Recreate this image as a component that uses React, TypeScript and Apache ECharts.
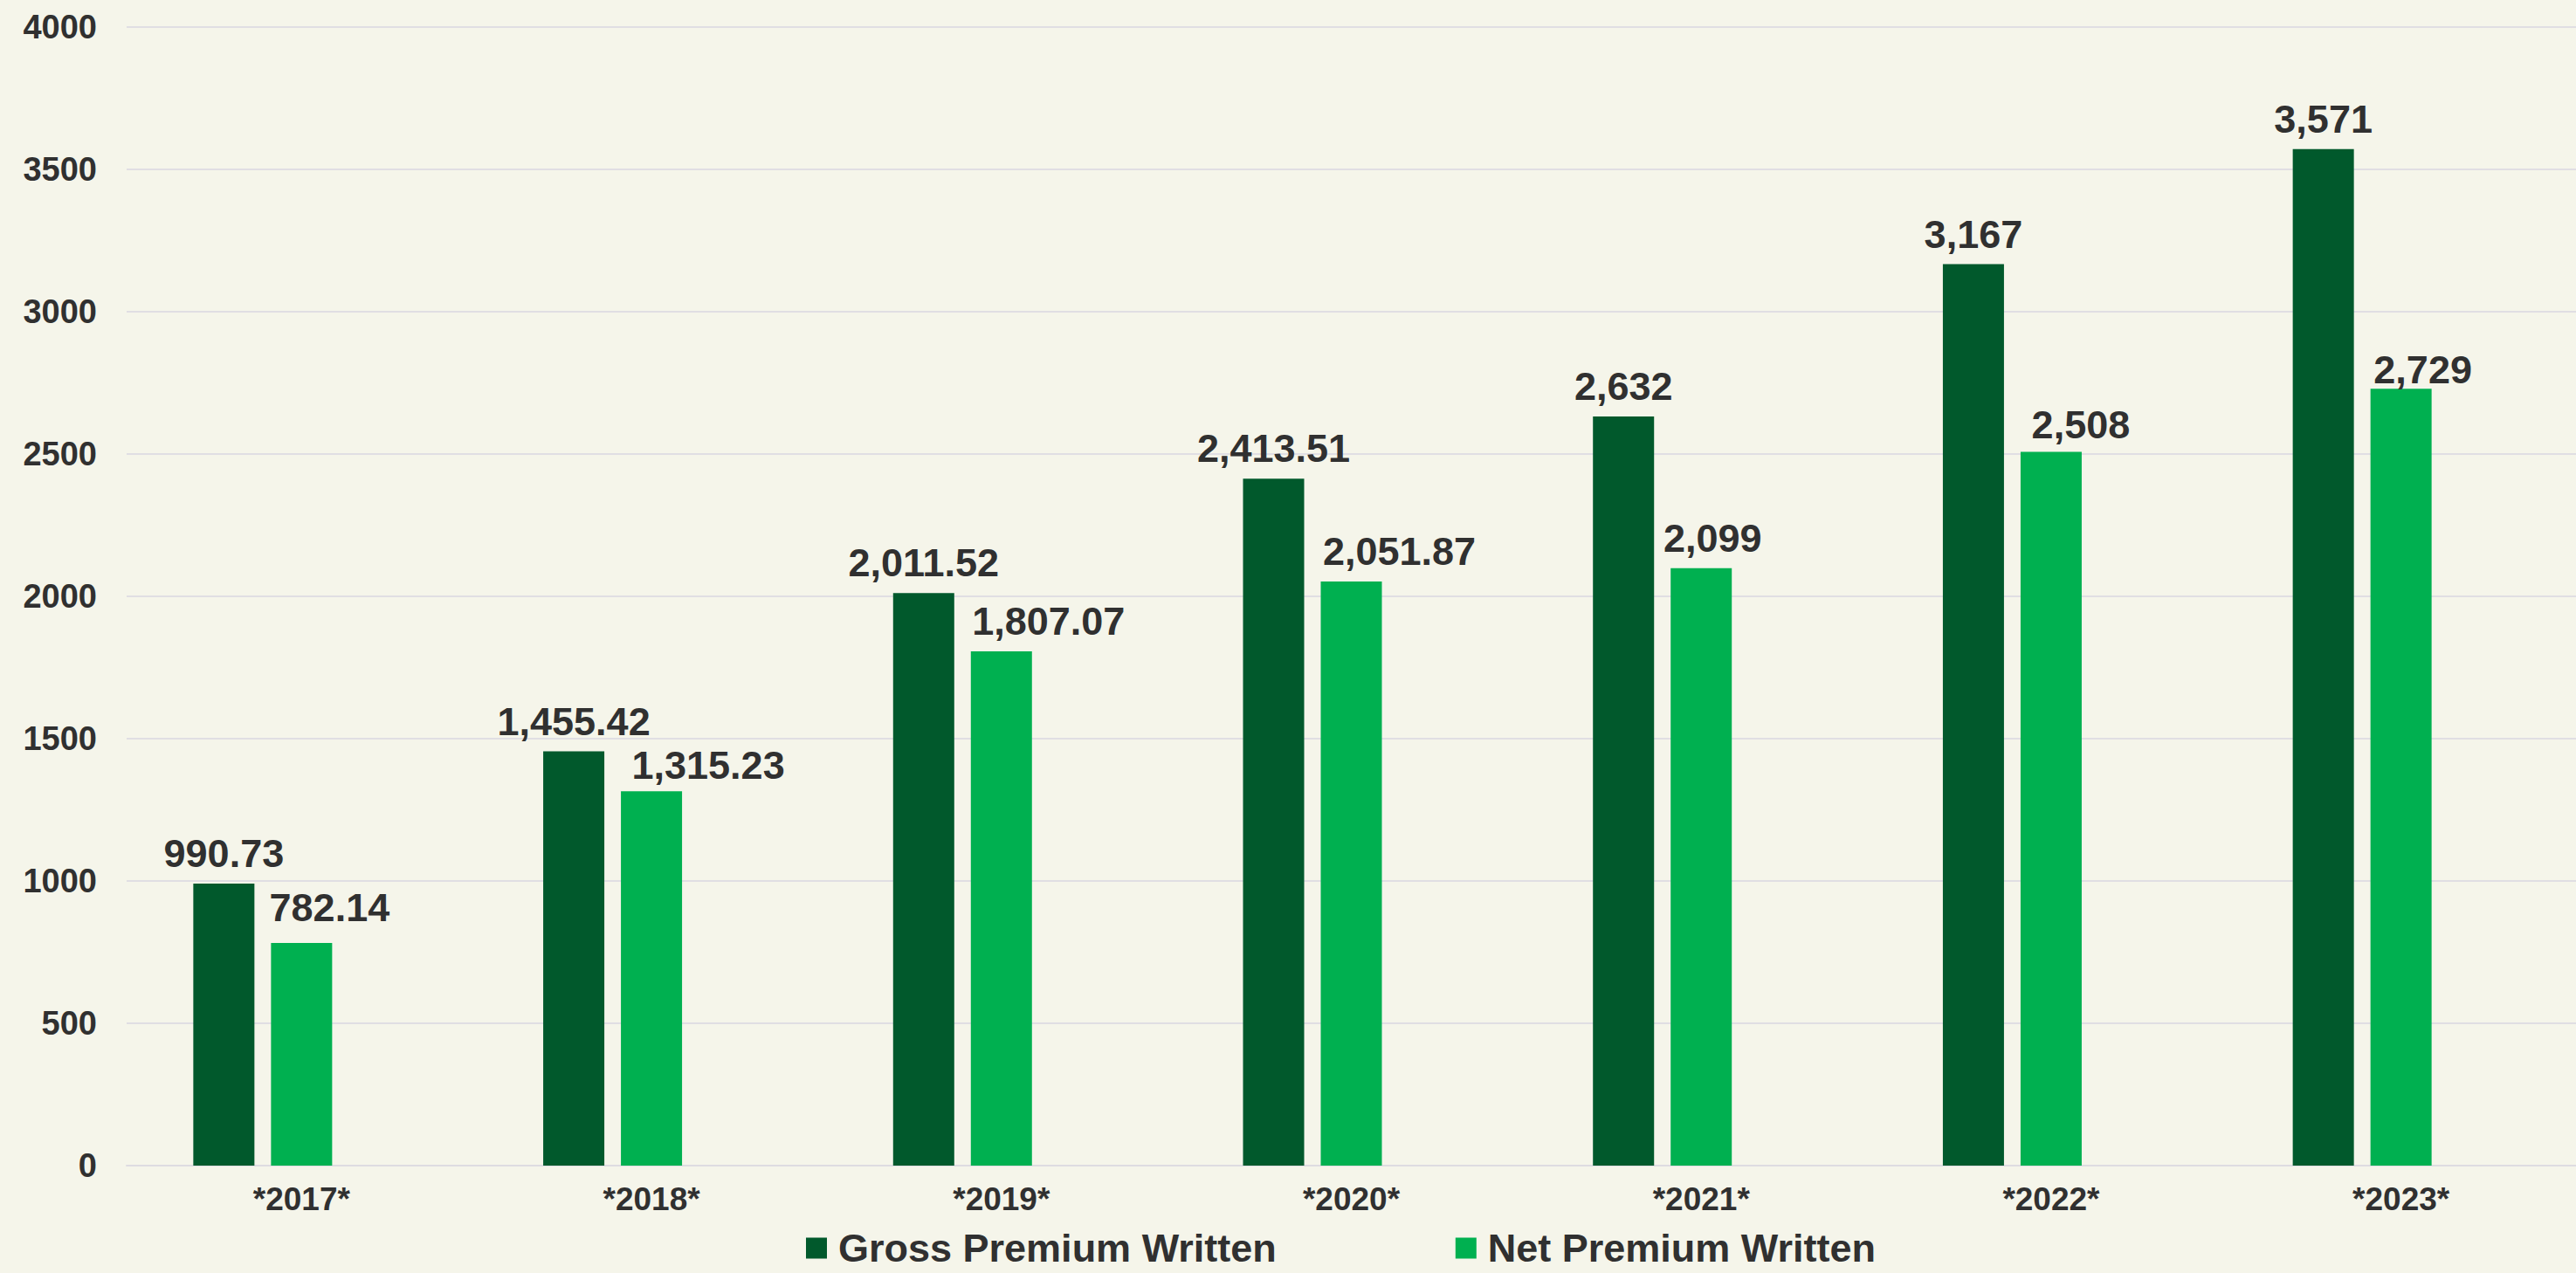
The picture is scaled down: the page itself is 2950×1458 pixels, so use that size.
import React, { useEffect, useRef } from "react";
import * as echarts from "echarts";

const categories = ["*2017*", "*2018*", "*2019*", "*2020*", "*2021*", "*2022*", "*2023*"];
const grossPremium = [990.73, 1455.42, 2011.52, 2413.51, 2632, 3167, 3571];
const netPremium = [782.14, 1315.23, 1807.07, 2051.87, 2099, 2508, 2729];
// manual label nudges of the net labels, as placed in the reference [dx, dy]
const netLabelOffsets = [
  [32, -6],
  [65, 5],
  [54, 0],
  [55, 0],
  [13, 0],
  [34, 4],
  [25, 13],
];
const seriesNames = ["Gross Premium Written", "Net Premium Written"];
const yTicks = { min: 0, max: 4000, interval: 500 };

const FONT = "'Liberation Sans', Arial, Helvetica, sans-serif";
const TEXT = "#303030";
const DARK = "#01592c";
const LIGHT = "#00b050";

const fmt = (v: number) =>
  v.toLocaleString("en-US", { maximumFractionDigits: 2, minimumFractionDigits: 0 });

export default function App() {
  const ref = useRef<HTMLDivElement>(null);
  useEffect(() => {
    if (!ref.current) return;
    const chart = echarts.init(ref.current, undefined, { renderer: "svg" });
    const labelBase = {
      show: true,
      position: "top",
      distance: 12,
      fontFamily: FONT,
      fontWeight: "bold",
      fontSize: 45,
      color: TEXT,
      formatter: (p: any) => fmt(p.value),
    };
    chart.setOption({
      animation: false,
      backgroundColor: "#f5f5ea",
      textStyle: { fontFamily: FONT },
      grid: { left: 145, top: 31, width: 2809, height: 1304, containLabel: false },
      legend: {
        data: seriesNames,
        left: 918,
        top: 1402,
        itemWidth: 24,
        itemHeight: 24,
        itemGap: 205,
        icon: "rect",
        textStyle: {
          fontFamily: FONT,
          fontWeight: "bold",
          fontSize: 45,
          color: TEXT,
          padding: [0, 0, 0, 8],
        },
      },
      xAxis: {
        type: "category",
        data: categories,
        axisTick: { show: false },
        axisLine: { show: true, lineStyle: { color: "#dedce1", width: 2 } },
        axisLabel: {
          margin: 20,
          fontFamily: FONT,
          fontWeight: "bold",
          fontSize: 37,
          color: TEXT,
        },
      },
      yAxis: {
        type: "value",
        min: yTicks.min,
        max: yTicks.max,
        interval: yTicks.interval,
        axisLine: { show: false },
        axisTick: { show: false },
        splitLine: { show: true, lineStyle: { color: "#e0dee3", width: 2 } },
        axisLabel: {
          margin: 34,
          fontFamily: FONT,
          fontWeight: "bold",
          fontSize: 38,
          color: TEXT,
          formatter: (v: number) => String(v),
        },
      },
      series: [
        {
          name: seriesNames[0],
          type: "bar",
          barWidth: 70,
          barGap: "27.14%",
          itemStyle: { color: DARK },
          label: labelBase,
          data: grossPremium,
        },
        {
          name: seriesNames[1],
          type: "bar",
          barWidth: 70,
          barGap: "27.14%",
          itemStyle: { color: LIGHT },
          label: labelBase,
          data: netPremium.map((v, i) => ({
            value: v,
            label: { offset: netLabelOffsets[i] },
          })),
        },
        {
          name: "spacer",
          type: "bar",
          barWidth: 70,
          barGap: "27.14%",
          data: categories.map(() => null),
        },
      ],
    });
    return () => chart.dispose();
  }, []);
  return (
    <div
      ref={ref}
      style={{ position: "absolute", left: 0, top: 0, width: 2950, height: 1458 }}
    />
  );
}
